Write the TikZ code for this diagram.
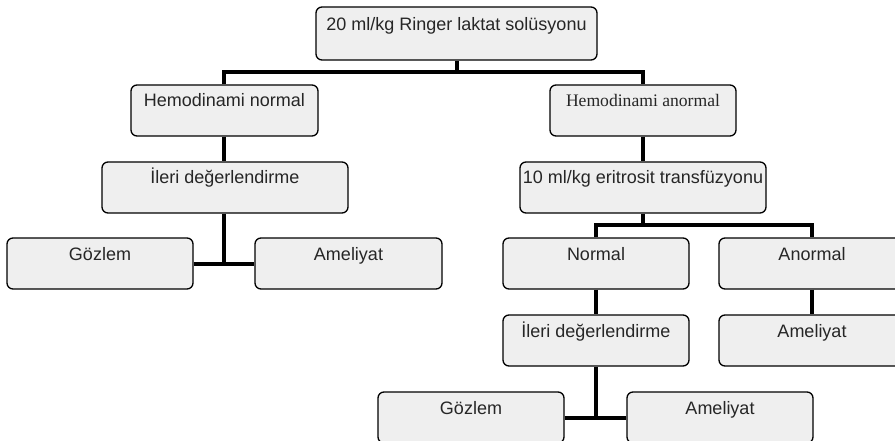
\documentclass[tikz,border=0pt]{standalone}
\usepackage{fontspec}
\setmainfont{Liberation Sans}
\newfontfamily\timesf{Liberation Serif}
\definecolor{boxfill}{HTML}{EFEFEF}
\definecolor{txt}{HTML}{262626}
\begin{document}
\begin{tikzpicture}[x=1pt,y=-1pt,
  box/.style={draw=black, line width=1.3pt, fill=boxfill, rounded corners=6pt,
    inner sep=0pt, text=txt, font=\fontsize{18}{20}\selectfont,
    text height=22pt, text depth=29pt},
  conn/.style={draw=black, line width=4pt}]
\useasboundingbox (0,0) rectangle (895,441);
\clip (0,0) rectangle (895,441);
% boxes
\node[box, minimum width=281pt, text height=24pt, text depth=29pt] (top) at (456.5,33.5) {20 ml/kg Ringer laktat solüsyonu};
\node[box, minimum width=187pt] (hn) at (224.5,110.5) {Hemodinami normal};
\node[box, minimum width=186pt, font=\timesf\fontsize{17.6}{20}\selectfont] (ha) at (643,110.5) {Hemodinami anormal};
\node[box, minimum width=246pt] (il) at (225,187.5) {İleri değerlendirme};
\node[box, minimum width=186pt] (g1) at (100,263.5) {Gözlem};
\node[box, minimum width=187pt] (a1) at (348.5,263.5) {Ameliyat};
\node[box, minimum width=246pt] (tr) at (643,187.5) {10 ml/kg eritrosit transfüzyonu};
\node[box, minimum width=186pt] (no) at (596,263.5) {Normal};
\node[box, minimum width=186pt] (an) at (812,263.5) {Anormal};
\node[box, minimum width=186pt] (i2) at (596,340.5) {İleri değerlendirme};
\node[box, minimum width=186pt] (a2) at (812,340.5) {Ameliyat};
\node[box, minimum width=186pt] (g2) at (471,417.5) {Gözlem};
\node[box, minimum width=186pt] (a3) at (720,417.5) {Ameliyat};
% junction coordinates
\coordinate (j1) at (456.5,72.5);
\coordinate (j2) at (224,263);
\coordinate (j3) at (643,225);
\coordinate (j4) at (596,417);
% connectors
\draw[conn] (top.south) -- (j1);
\draw[conn] (hn.north -| 224,0) |- (j1) -| (ha.north);
\draw[conn] (hn.south -| 224,0) -- (il.north -| 224,0);
\draw[conn] (il.south -| 224,0) -- (j2);
\draw[conn] (g1.east) -- (a1.west);
\draw[conn] (ha.south) -- (tr.north);
\draw[conn] (tr.south) -- (j3);
\draw[conn] (no.north) |- (j3) -| (an.north);
\draw[conn] (no.south) -- (i2.north);
\draw[conn] (an.south) -- (a2.north);
\draw[conn] (i2.south) -- (j4);
\draw[conn] (g2.east) -- (a3.west);
\end{tikzpicture}
\end{document}
